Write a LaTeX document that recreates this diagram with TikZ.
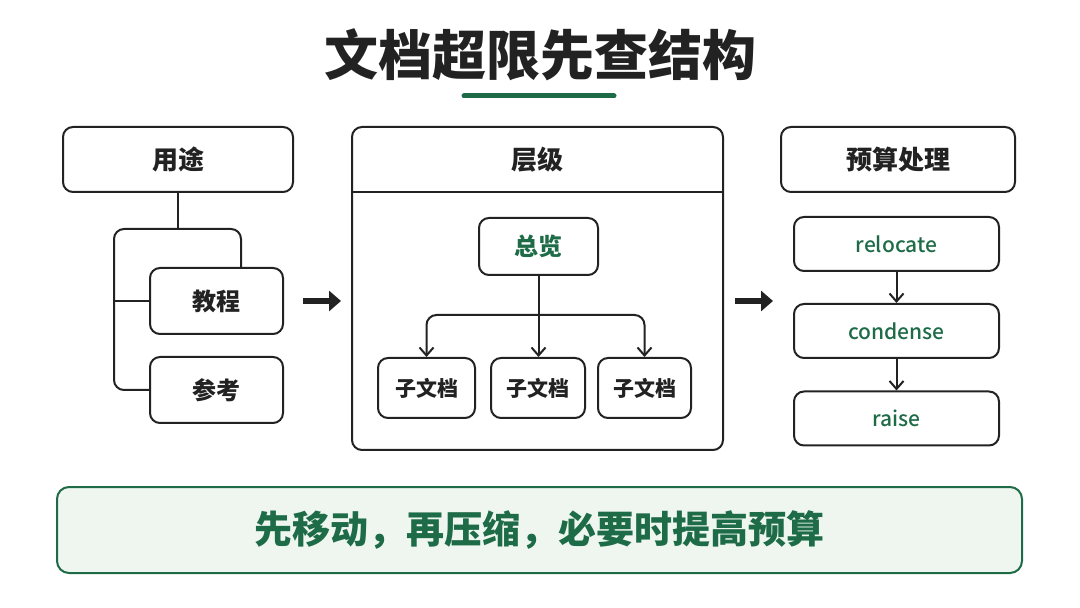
\documentclass[tikz,border=0pt]{standalone}
\usepackage{fontspec}
\setmainfont{Noto Sans CJK SC}
\newfontfamily\medfont{Noto Sans CJK SC Medium}
\newfontfamily\blackfont{Noto Sans CJK SC Black}
\usetikzlibrary{arrows.meta}
\definecolor{dg}{HTML}{1E6B47}
\definecolor{lg}{HTML}{EEF6EF}
\definecolor{ink}{HTML}{222222}
\tikzset{
  box/.style={draw=ink, line width=1pt, rounded corners=5pt, fill=white, text=ink, font=\bfseries, inner sep=0pt},
  conn/.style={draw=ink, line width=1pt},
  arr/.style={conn, -{Straight Barb[length=4pt,width=7pt,line width=1pt]}},
  bigarr/.style={draw=ink, line width=3pt, -{Triangle[length=6pt,width=10pt]}},
}
\begin{document}
\begin{tikzpicture}[x=0.5pt,y=-0.5pt]
\useasboundingbox (0,0) rectangle (1080,608);
% title
\node[font=\blackfont\fontsize{27pt}{30pt}\selectfont, text=ink] (title) at (540,55) {文档超限先查结构};
\coordinate (ul1) at (464,96);
\coordinate (ul2) at (614,96);
\draw[dg, line width=2.5pt, line cap=round] (ul1) -- (ul2);

% left column
\node[box, minimum width=115pt, minimum height=32.5pt, font=\bfseries\fontsize{13pt}{15pt}\selectfont] (use) at (178,159.5) {用途};
\node[box, minimum width=66.5pt, minimum height=33pt, font=\bfseries\fontsize{12pt}{14pt}\selectfont] (jc) at (216.5,301) {教程};
\node[box, minimum width=66.5pt, minimum height=33pt, font=\bfseries\fontsize{12pt}{14pt}\selectfont] (ck) at (216.5,390) {参考};
\coordinate (tl) at (114,229);
\coordinate (tr) at (241,229);
\draw[conn, rounded corners=5pt] (jc.north -| tr) -- (tr) -- (tl) -- (tl |- ck.west) -- (ck.west);
\draw[conn] (use.south) -- (use.south |- tr);
\draw[conn] (tl |- jc.west) -- (jc.west);

\coordinate (a1s) at (303,301);
\coordinate (a1e) at (341,301);
\draw[bigarr] (a1s) -- (a1e);

% middle column
\node[box, minimum width=185.5pt, minimum height=161.5pt] (lvl) at (537.5,288.5) {};
\node[font=\bfseries\fontsize{13pt}{15pt}\selectfont, text=ink] (lvlt) at (537.5,160) {层级};
\coordinate (hdr) at (537.5,192);
\draw[conn] (lvl.west |- hdr) -- (lvl.east |- hdr);
\node[box, minimum width=59.5pt, minimum height=28.5pt, text=dg, font=\bfseries\fontsize{12pt}{14pt}\selectfont] (ov) at (538.5,246.5) {总览};
\node[box, minimum width=48.5pt, minimum height=30pt, font=\bfseries\fontsize{10.5pt}{12pt}\selectfont] (s1) at (426.5,388) {子文档};
\node[box, minimum width=47pt, minimum height=30pt, font=\bfseries\fontsize{10.5pt}{12pt}\selectfont] (s2) at (538,388) {子文档};
\node[box, minimum width=46.5pt, minimum height=30pt, font=\bfseries\fontsize{10.5pt}{12pt}\selectfont] (s3) at (644.5,388) {子文档};
\coordinate (bar) at (538,315);
\draw[arr] (ov.south) -- (ov.south |- s2.north);
\draw[arr, rounded corners=5pt] (ov.south |- bar) -- (bar -| s1.north) -- (s1.north);
\draw[arr, rounded corners=5pt] (ov.south |- bar) -- (bar -| s3.north) -- (s3.north);

\coordinate (a2s) at (735,301);
\coordinate (a2e) at (773,301);
\draw[bigarr] (a2s) -- (a2e);

% right column
\node[box, minimum width=117pt, minimum height=32.5pt, font=\bfseries\fontsize{13pt}{15pt}\selectfont] (bud) at (898,159.5) {预算处理};
\node[box, minimum width=102.5pt, minimum height=27pt, text=dg, font=\medfont\fontsize{10.5pt}{12pt}\selectfont] (rel) at (896.5,244) {relocate};
\node[box, minimum width=102.5pt, minimum height=27pt, text=dg, font=\medfont\fontsize{10.5pt}{12pt}\selectfont] (con) at (896.5,331) {condense};
\node[box, minimum width=102.5pt, minimum height=27pt, text=dg, font=\medfont\fontsize{10.5pt}{12pt}\selectfont] (rai) at (896.5,418.5) {raise};
\draw[arr] (rel.south) -- (con.north);
\draw[arr] (con.south) -- (rai.north);

% banner
\node[draw=dg, line width=1pt, fill=lg, rounded corners=6pt, minimum width=482.5pt, minimum height=43pt, text=dg, font=\bfseries\fontsize{19pt}{21pt}\selectfont] (ban) at (539.5,530) {先移动，再压缩，必要时提高预算};
\end{tikzpicture}
\end{document}
